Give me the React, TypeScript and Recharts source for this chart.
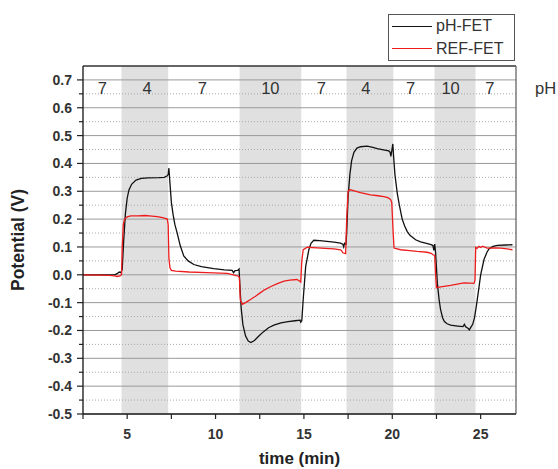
import React from 'react';
import {
  LineChart,
  Line,
  XAxis,
  YAxis,
  ReferenceArea,
  ReferenceLine,
  ReferenceDot,
  Legend,
  Label,
} from 'recharts';

// pH-FET trace (time in min, potential in V)
const phFetTime = [
  2.5, 3.5, 4.3, 4.45, 4.55, 4.65, 4.72, 4.8, 4.9, 5.0, 5.1, 5.25, 5.5, 5.8, 6.2, 6.8, 7.1, 7.25, 7.32, 7.36,
  7.42, 7.5, 7.6, 7.7, 7.83, 8.0, 8.2, 8.45, 8.77, 9.2, 9.9, 10.5, 10.94, 11.02, 11.1, 11.25, 11.33, 11.37,
  11.45, 11.55, 11.7, 11.85, 12.0, 12.2, 12.45, 12.7, 13.0, 13.3, 13.7, 14.1, 14.5, 14.78, 14.82, 14.88,
  14.96, 15.1, 15.28, 15.4, 15.56, 15.9, 16.3, 16.7, 17.07, 17.2, 17.25, 17.3, 17.38, 17.42, 17.5, 17.6,
  17.7, 17.83, 18.0, 18.2, 18.58, 18.9, 19.15, 19.5, 19.8, 19.88, 19.92, 19.97, 20.03, 20.08, 20.15, 20.28,
  20.4, 20.56, 20.7, 20.84, 21.0, 21.32, 21.6, 21.88, 22.2, 22.3, 22.35, 22.4, 22.45, 22.55, 22.65, 22.73,
  22.85, 22.95, 23.1, 23.3, 23.7, 24.0, 24.08, 24.15, 24.3, 24.36, 24.45, 24.55, 24.65, 24.75, 24.85, 25.0,
  25.19, 25.35, 25.47, 25.7, 25.94, 26.4, 26.8,
];
const phFetValue = [
  0.0, 0.0, 0.0, 0.005, 0.01, 0.008, 0.02, 0.12, 0.22, 0.275, 0.305, 0.325, 0.34, 0.346, 0.348, 0.349, 0.35,
  0.355, 0.36, 0.383, 0.33, 0.26, 0.215, 0.18, 0.15, 0.105, 0.068, 0.05, 0.037, 0.029, 0.022, 0.018, 0.016,
  0.007, 0.015, 0.016, 0.021, -0.03, -0.12, -0.18, -0.22, -0.238, -0.243, -0.236, -0.22, -0.205, -0.19,
  -0.181, -0.173, -0.168, -0.165, -0.163, -0.17, -0.165, -0.088, 0.03, 0.09, 0.113, 0.124, 0.123, 0.12,
  0.117, 0.114, 0.11, 0.1, 0.113, 0.11, 0.15, 0.28, 0.36, 0.41, 0.44, 0.455, 0.46, 0.462, 0.458, 0.453,
  0.449, 0.445, 0.44, 0.425, 0.445, 0.47, 0.42, 0.36, 0.293, 0.25, 0.2, 0.175, 0.156, 0.142, 0.126, 0.118,
  0.114, 0.108, 0.105, 0.088, 0.11, 0.08, -0.03, -0.09, -0.124, -0.155, -0.168, -0.176, -0.181, -0.184,
  -0.186, -0.178, -0.187, -0.193, -0.198, -0.188, -0.178, -0.155, -0.115, -0.07, 0.0, 0.055, 0.08, 0.093,
  0.102, 0.106, 0.107, 0.108,
];

// REF-FET trace
const refFetTime = [
  2.5, 3.5, 4.0, 4.3, 4.45, 4.6, 4.68, 4.72, 4.78, 4.85, 5.0, 5.2, 5.6, 6.0, 6.4, 6.7, 7.0, 7.27, 7.32, 7.36,
  7.42, 7.5, 7.74, 8.5, 9.5, 10.66, 11.0, 11.3, 11.35, 11.4, 11.51, 11.7, 12.0, 12.3, 12.54, 12.8, 13.1,
  13.5, 13.87, 14.2, 14.6, 14.75, 14.82, 14.88, 14.96, 15.19, 15.75, 16.2, 16.7, 17.07, 17.15, 17.2, 17.36,
  17.42, 17.5, 17.58, 17.8, 18.2, 18.77, 19.2, 19.52, 19.75, 19.9, 19.97, 20.05, 20.1, 20.47, 21.0, 21.4,
  21.97, 22.2, 22.3, 22.4, 22.45, 22.5, 22.73, 23.3, 24.05, 24.4, 24.62, 24.68, 24.72, 24.8, 24.9, 25.0,
  25.1, 25.37, 25.8, 26.13, 26.5, 26.8,
];
const refFetValue = [
  0.0, -0.001, -0.002, -0.004, -0.006, -0.004, 0.0, 0.1, 0.18, 0.2, 0.208, 0.212, 0.212, 0.213, 0.211,
  0.209, 0.205, 0.2, 0.18, 0.06, 0.025, 0.016, 0.013, 0.01, 0.008, 0.005, 0.0, -0.005, -0.01, -0.09, -0.106,
  -0.1, -0.088, -0.075, -0.064, -0.053, -0.043, -0.032, -0.023, -0.019, -0.017, -0.022, -0.026, 0.05, 0.09,
  0.099, 0.097, 0.095, 0.093, 0.09, 0.085, 0.079, 0.076, 0.2, 0.3, 0.306, 0.302, 0.295, 0.287, 0.284, 0.281,
  0.277, 0.271, 0.26, 0.15, 0.096, 0.09, 0.087, 0.084, 0.081, 0.077, 0.072, 0.07, 0.0, -0.046, -0.043,
  -0.038, -0.029, -0.03, -0.031, -0.02, 0.099, 0.095, 0.102, 0.098, 0.103, 0.096, 0.097, 0.096, 0.093, 0.09,
];

const seriesNames = ['pH-FET', 'REF-FET'];
const seriesColors = ['#111111', '#ee1c1c'];

// grey bands where the buffer is changed
const bandStart = [4.68, 11.36, 17.41, 22.39];
const bandEnd = [7.32, 14.85, 20.06, 24.71];

// pH of each segment
const phLabels = ['7', '4', '7', '10', '7', '4', '7', '10', '7'];
const phLabelTime = [3.6, 6.13, 9.25, 13.1, 15.98, 18.5, 21.03, 23.3, 25.52];
const phLabelLevel = 0.671;

const xTicks = [2.5, 5, 7.5, 10, 12.5, 15, 17.5, 20, 22.5, 25];
const yMajor = [-0.5, -0.4, -0.3, -0.2, -0.1, 0, 0.1, 0.2, 0.3, 0.4, 0.5, 0.6, 0.7];
const yMinor = [-0.45, -0.35, -0.25, -0.15, -0.05, 0.05, 0.15, 0.25, 0.35, 0.45, 0.55, 0.65];
const yTicks = [...yMajor, ...yMinor].sort((a, b) => a - b);

const FONT = '"Liberation Sans", Arial, sans-serif';
const TICK = 6;
const GAP = 5;

const phFetData = phFetTime.map((t, i) => ({ t, v: phFetValue[i] }));
const refFetData = refFetTime.map((t, i) => ({ t, v: refFetValue[i] }));

const isMajorY = (v: number) => yMajor.some((m) => Math.abs(m - v) < 1e-6);

const YTick = (props: any) => {
  const { x, y, payload } = props;
  const v = payload.value;
  const major = isMajorY(v);
  const ax = x + TICK + GAP;
  return (
    <g>
      <line x1={ax} x2={ax - (major ? 6 : 4)} y1={y} y2={y} stroke="#222" strokeWidth={1.2} />
      {major && (
        <text x={x} y={y} dy={5} textAnchor="end" fontSize={14} fontWeight="bold" fill="#333" fontFamily={FONT}>
          {v.toFixed(1)}
        </text>
      )}
    </g>
  );
};

const XTick = (props: any) => {
  const { x, y, payload } = props;
  const v = payload.value;
  const major = v % 5 === 0;
  const ay = y - TICK - GAP;
  return (
    <g>
      <line x1={x} x2={x} y1={ay} y2={ay + 5} stroke="#222" strokeWidth={1.2} />
      {major && (
        <text x={x} y={y} dy={14} textAnchor="middle" fontSize={14} fontWeight="bold" fill="#333" fontFamily={FONT}>
          {v}
        </text>
      )}
    </g>
  );
};

const renderLegend = () => (
  <div
    style={{
      border: '1px solid #555',
      width: 125,
      height: 45,
      background: '#fff',
      fontSize: 16,
      lineHeight: '22px',
      color: '#333',
      fontFamily: FONT,
      boxSizing: 'content-box',
    }}
  >
    {seriesNames.map((n, i) => (
      <div key={n} style={{ display: 'flex', alignItems: 'center', height: 22.5 }}>
        <span style={{ width: 40, marginLeft: 3, marginRight: 4, borderTop: `1px solid ${seriesColors[i]}` }} />
        <span>{n}</span>
      </div>
    ))}
  </div>
);

export default function App() {
  return (
    <div style={{ position: 'absolute', left: 0, top: 0, width: 558, height: 469, background: '#fff' }}>
      <LineChart width={558} height={469} margin={{ top: 66, right: 42, bottom: 0, left: 0 }}>
        <XAxis
          type="number"
          dataKey="t"
          domain={[2.5, 27]}
          ticks={xTicks}
          allowDataOverflow
          height={55}
          tickLine={false}
          tickSize={TICK}
          tickMargin={GAP}
          tick={<XTick />}
          axisLine={{ stroke: '#222', strokeWidth: 1.3 }}
        >
          <Label value="time (min)" position="center" dy={16} fontSize={17} fontWeight="bold" fill="#222" fontFamily={FONT} />
        </XAxis>
        <YAxis
          type="number"
          dataKey="v"
          domain={[-0.5, 0.75]}
          ticks={yTicks}
          allowDataOverflow
          width={83}
          tickLine={false}
          tickSize={TICK}
          tickMargin={GAP}
          tick={<YTick />}
          interval={0}
          axisLine={{ stroke: '#111', strokeWidth: 1.3 }}
        >
          <Label value="Potential (V)" angle={-90} position="center" dx={-24} fontSize={17.5} fontWeight="bold" fill="#222" fontFamily={FONT} />
        </YAxis>

        {bandStart.map((s, i) => (
          <ReferenceArea key={`band${i}`} x1={s} x2={bandEnd[i]} fill="#e0e0e0" fillOpacity={1} stroke="none" />
        ))}
        {yMajor.map((v) => (
          <ReferenceLine key={`maj${v}`} y={v} stroke="#9a9a9a" strokeWidth={1} />
        ))}
        {yMinor.map((v) => (
          <ReferenceLine key={`min${v}`} y={v} stroke="#a8a8a8" strokeWidth={1} strokeDasharray="1 2" />
        ))}
        <ReferenceLine y={0.75} stroke="#333" strokeWidth={1.3} />
        <ReferenceLine x={27} stroke="#666" strokeWidth={1.3} />

        {phLabels.map((p, i) => (
          <ReferenceDot
            key={`ph${i}`}
            x={phLabelTime[i]}
            y={phLabelLevel}
            r={0}
            fill="none"
            stroke="none"
            label={{ value: p, position: 'center', fontSize: 16.5, fill: '#333', fontFamily: FONT }}
          />
        ))}
        <ReferenceDot
          x={27}
          y={phLabelLevel}
          r={0}
          fill="none"
          stroke="none"
          ifOverflow="visible"
          label={{ value: 'pH', position: 'right', offset: 19, fontSize: 16.5, fill: '#333', fontFamily: FONT }}
        />

        <Line
          data={phFetData}
          dataKey="v"
          name={seriesNames[0]}
          type="linear"
          stroke={seriesColors[0]}
          strokeWidth={1.3}
          dot={false}
          isAnimationActive={false}
        />
        <Line
          data={refFetData}
          dataKey="v"
          name={seriesNames[1]}
          type="linear"
          stroke={seriesColors[1]}
          strokeWidth={1.3}
          dot={false}
          isAnimationActive={false}
        />
        <Legend
          layout="vertical"
          align="center"
          verticalAlign="middle"
          wrapperStyle={{ top: 14, left: 388, width: 127, height: 47 }}
          content={renderLegend}
        />
      </LineChart>
    </div>
  );
}
